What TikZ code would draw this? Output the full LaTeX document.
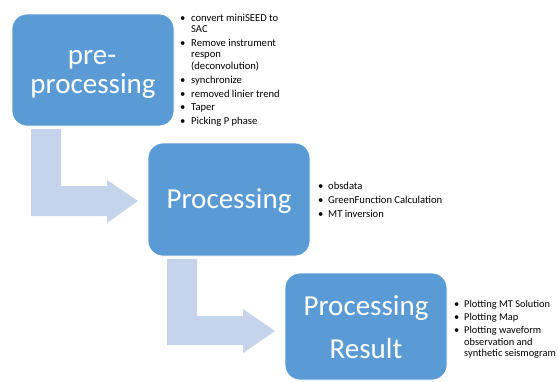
\documentclass[tikz,border=0pt]{standalone}
\usepackage{fontspec}
\setmainfont{Carlito}
\usepackage{array}
\definecolor{boxblue}{HTML}{5B9BD5}
\definecolor{arrowblue}{HTML}{C5D4EA}
\newcommand{\bigtxt}{\fontsize{29}{30}\selectfont}
\begin{document}
\begin{tikzpicture}[x=1pt,y=-1pt,
  procbox/.style={fill=boxblue,draw=white,line width=0.8pt,rounded corners=15pt,inner sep=0pt},
  boxlabel/.style={text=white,font=\bigtxt,inner sep=0pt,anchor=base},
  bentarrow/.style={fill=arrowblue,draw=none},
  bulletlist/.style={anchor=base west,inner sep=0pt,text=black}
]
\useasboundingbox (0,0) rectangle (558,381);
\fill[white] (0,0) rectangle (558,381);

% bent arrows
\draw[bentarrow] (31,129) -- (61,129) -- (61,186) -- (107,186) -- (107,180) -- (138,201) -- (107,223) -- (107,216) -- (31,216) -- cycle;
\draw[bentarrow] (167,259) -- (197,259) -- (197,316) -- (243,316) -- (243,309) -- (275,331) -- (243,353) -- (243,345) -- (167,345) -- cycle;

% boxes
\node[procbox,minimum width=162pt,minimum height=112pt] (b1) at (93,70) {};
\node[procbox,minimum width=162pt,minimum height=113pt] (b2) at (229,199.5) {};
\node[procbox,minimum width=162pt,minimum height=107pt] (b3) at (366,326.5) {};

% box labels
\node[boxlabel] (t1a) at (92,64) {pre-};
\node[boxlabel] (t1b) at (93,93) {processing};
\node[boxlabel] (t2) at (229,208) {Processing};
\node[boxlabel] (t3a) at (366,315) {Processing};
\node[boxlabel] (t3b) at (366,358) {Result};

% bullet lists
\node[bulletlist,font=\fontsize{10.6}{11.5}\selectfont] (l1) at (180,21) {%
\begin{tabular}[t]{@{}p{11pt}@{}l@{}}
\textbullet & convert miniSEED to\\
 & SAC\\[2.4pt]
\textbullet & Remove instrument\\
 & respon\\
 & (deconvolution)\\[2.4pt]
\textbullet & synchronize\\[2.4pt]
\textbullet & removed linier trend\\[2.0pt]
\textbullet & Taper\\[2.4pt]
\textbullet & Picking P phase
\end{tabular}};

\node[bulletlist,font=\fontsize{10.6}{14}\selectfont] (l2) at (318,189) {%
\begin{tabular}[t]{@{}p{10pt}@{}l@{}}
\textbullet & obsdata\\
\textbullet & GreenFunction Calculation\\
\textbullet & MT inversion
\end{tabular}};

\node[bulletlist,font=\fontsize{10.4}{11.8}\selectfont] (l3) at (454,307) {%
\begin{tabular}[t]{@{}p{10pt}@{}l@{}}
\textbullet & Plotting MT Solution\\[1.3pt]
\textbullet & Plotting Map\\[1.3pt]
\textbullet & Plotting waveform\\
 & observation and\\
 & synthetic seismogram
\end{tabular}};
\end{tikzpicture}
\end{document}
